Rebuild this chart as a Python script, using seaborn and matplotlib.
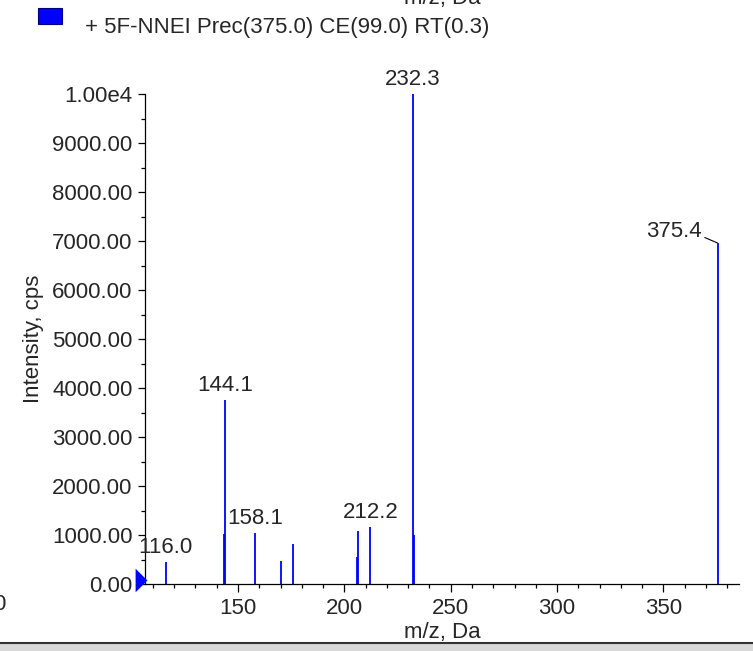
import numpy as np
import pandas as pd
import matplotlib
matplotlib.use('Agg')
import matplotlib.pyplot as plt
import seaborn as sns
from matplotlib.patches import Rectangle
from matplotlib.ticker import FuncFormatter, MultipleLocator

# peaks
mz = [116.0, 143.4, 144.1, 158.1, 170.1, 176.0, 205.8, 206.3, 212.2, 232.3, 232.9, 375.4]
intensity = [440, 1030, 3750, 1035, 470, 815, 560, 1080, 1160, 10000, 990, 6960]
labelled = [116.0, 144.1, 158.1, 212.2, 232.3, 375.4]
legend_txt = '+ 5F-NNEI Prec(375.0) CE(99.0) RT(0.3)'

df = pd.DataFrame({'mz': mz, 'intensity': intensity})

sns.set_style('ticks')
plt.rcParams['font.family'] = ['Liberation Sans', 'DejaVu Sans']
fs = 16

fig = plt.figure(figsize=(7.53, 6.51), dpi=100)
ax = fig.add_axes([145 / 753, 67 / 651, 594 / 753, 490 / 651])

ax.vlines(df['mz'], 0, df['intensity'], color='#0000ff', lw=1.3)

ax.set_xlim(106.3, 385.5)
ax.set_ylim(0, 10000)
for s in ['top', 'right']:
    ax.spines[s].set_visible(False)
for s in ['left', 'bottom']:
    ax.spines[s].set_color('black')
    ax.spines[s].set_linewidth(0.9)

ax.xaxis.set_major_locator(MultipleLocator(50))
ax.xaxis.set_minor_locator(MultipleLocator(10))
ax.yaxis.set_major_locator(MultipleLocator(1000))
ax.yaxis.set_minor_locator(MultipleLocator(500))

ax.yaxis.set_major_formatter(FuncFormatter(lambda v, p: '1.00e4' if v >= 10000 else '%.2f' % v))
ax.tick_params(axis='both', which='major', labelsize=fs, color='black', width=0.9)
ax.tick_params(axis='x', which='major', length=6, pad=4)
ax.tick_params(axis='x', which='minor', length=3, width=0.9, color='black')
ax.tick_params(axis='y', which='major', length=5, pad=4)
ax.tick_params(axis='y', which='minor', length=3, width=0.9, color='black')

ax.set_xlabel('m/z, Da', fontsize=fs, labelpad=2)
ax.set_ylabel('Intensity, cps', fontsize=fs, labelpad=6)

# peak labels
for x, y in zip(mz, intensity):
    if x not in labelled:
        continue
    if x == 375.4:
        ax.annotate('%.1f' % x, (x, y), xytext=(-16, 11), textcoords='offset pixels',
                    ha='right', va='center', fontsize=fs, annotation_clip=False,
                    arrowprops=dict(arrowstyle='-', color='black', lw=0.8,
                                    relpos=(1.0, 0.3), shrinkA=0, shrinkB=0))
    else:
        ax.annotate('%.1f' % x, (x, y), xytext=(0, 4), textcoords='offset pixels',
                    ha='center', va='bottom', fontsize=fs, annotation_clip=False)

# narrow blue triangle at the origin
tri = [(-0.5, -1), (0.5, 0), (-0.5, 1), (-0.5, -1)]
ax.plot([-0.0075], [0.009], marker=tri, color='#0000ff', markersize=17,
        markeredgewidth=0, transform=ax.transAxes, clip_on=False, zorder=5)

# legend swatch and text
fig.patches.append(Rectangle((38 / 753, 1 - 24 / 651), 24 / 753, 16 / 651,
                             transform=fig.transFigure, facecolor='#0000ff',
                             edgecolor='#000080', lw=0.8))
fig.text(85 / 753, 1 - 27 / 651, legend_txt, fontsize=fs, va='center', ha='left')

# clipped leftovers from the neighbouring panels
fig.text(442 / 753, 1 - 4 / 651, 'm/z, Da', fontsize=fs, ha='center', va='baseline')
fig.text(5 / 753, 1 - 605 / 651, '0', fontsize=fs, ha='right', va='center')

# bottom border
fig.add_artist(plt.Line2D([0, 1], [8 / 651, 8 / 651], transform=fig.transFigure,
                          color='#333333', lw=1.5))
fig.patches.append(Rectangle((0, 0), 1, 7 / 651, transform=fig.transFigure,
                             facecolor='#d8d8d8', edgecolor='none'))

fig.savefig('out.png', dpi=100)
